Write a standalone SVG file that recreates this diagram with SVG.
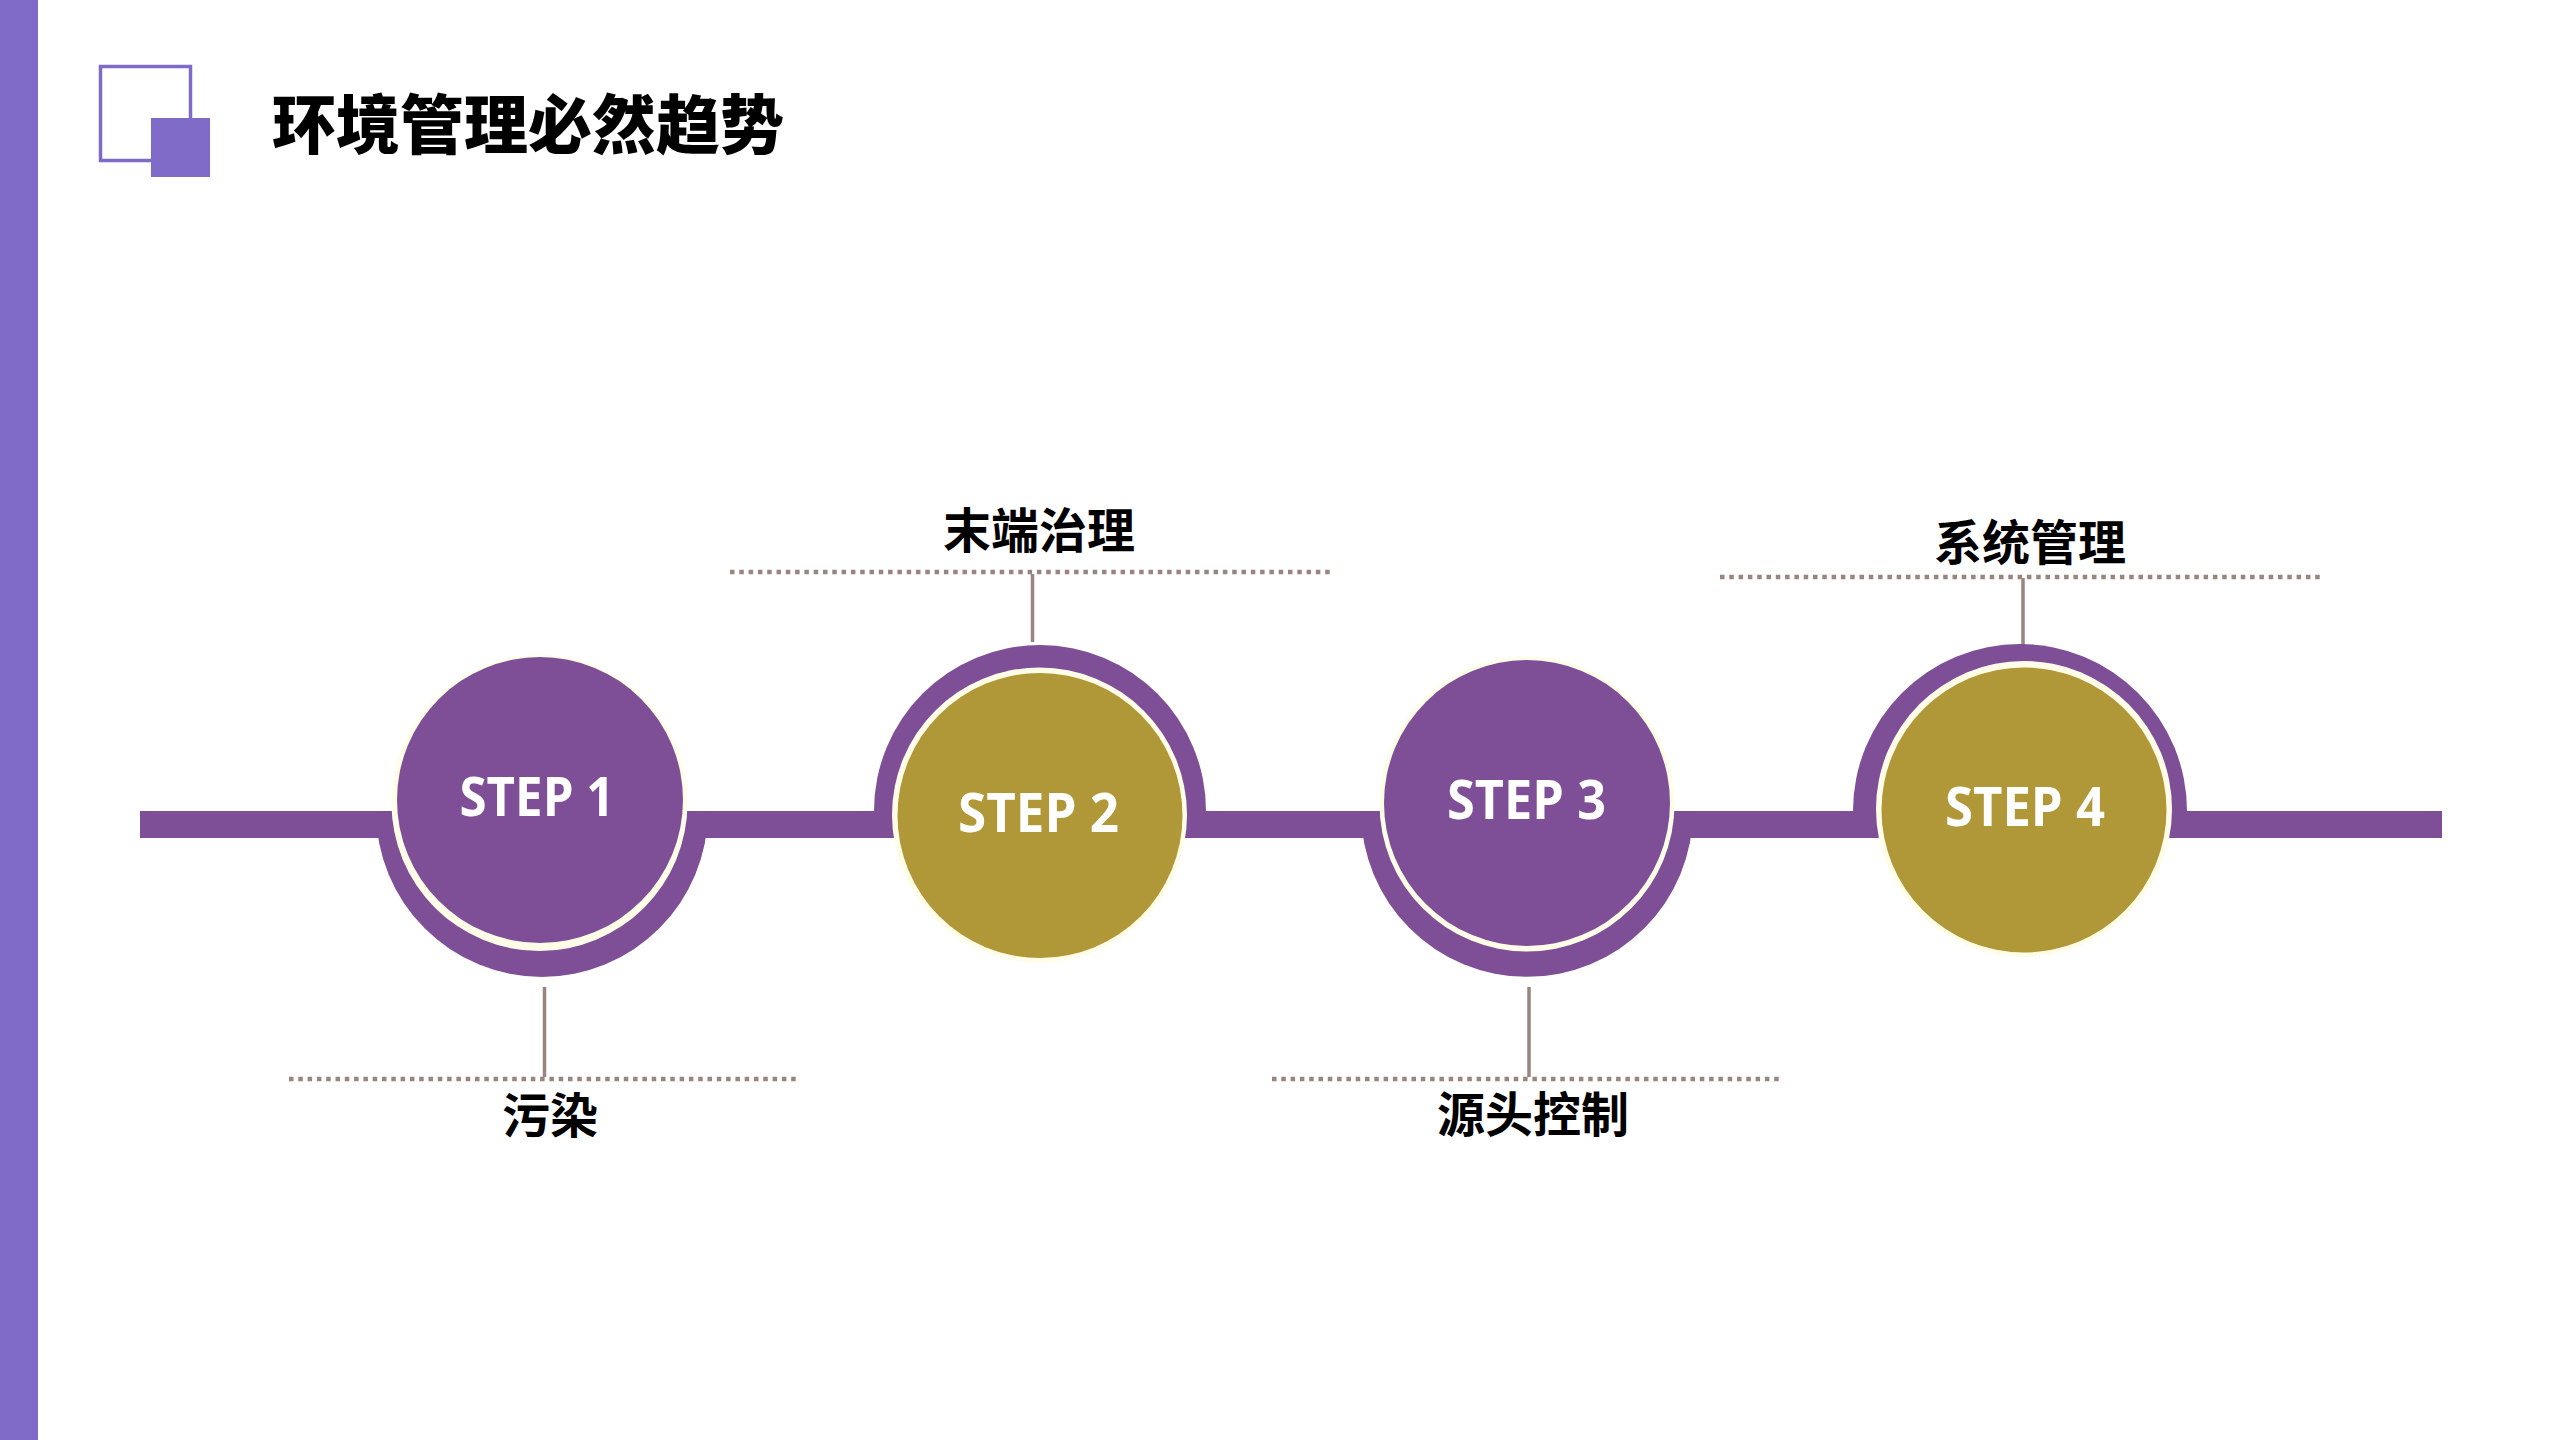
<svg xmlns="http://www.w3.org/2000/svg" width="2560" height="1440" viewBox="0 0 2560 1440">
  <style>
    .accent { fill: #7F6BC7; }
    .purple { fill: #7E4F96; }
    .gold { fill: #B09737; }
    .cream { fill: #FFFDE8; }
    .step { font-family: "Open Sans", "Noto Sans", sans-serif; font-weight: 700; font-size: 53px; fill: #FFFFFF; text-anchor: middle; }
    .label { font-family: "Noto Sans CJK SC", "Noto Sans", sans-serif; font-weight: 700; font-size: 48px; fill: #000000; text-anchor: middle; }
    .title { font-family: "Noto Sans CJK SC", "Noto Sans", sans-serif; font-weight: 900; font-size: 64px; fill: #000000; }
    .dots { stroke: #9A8480; stroke-width: 4.5; stroke-dasharray: 4.5 4.8; fill: none; }
    .stem { stroke: #9A8480; stroke-width: 3.5; fill: none; }
  </style>
  <rect width="2560" height="1440" fill="#FFFFFF"/>
  <g id="header">
    <rect class="accent" x="0" y="0" width="38" height="1440"/>
    <rect x="100.5" y="66.5" width="90" height="94" fill="none" stroke="#7F6BC7" stroke-width="3.5"/>
    <rect class="accent" x="151" y="118" width="59" height="59"/>
    <text class="title" x="272" y="148">环境管理必然趋势</text>
  </g>
  <g id="connectors">
    <rect class="purple" x="140" y="811" width="2302" height="27"/>
    <line class="dots" x1="289" y1="1079" x2="797" y2="1079"/>
    <line class="stem" x1="544.5" y1="987" x2="544.5" y2="1077"/>
    <line class="dots" x1="730" y1="572" x2="1332" y2="572"/>
    <line class="stem" x1="1032.5" y1="574" x2="1032.5" y2="642"/>
    <line class="dots" x1="1272" y1="1079" x2="1781" y2="1079"/>
    <line class="stem" x1="1529" y1="987" x2="1529" y2="1077"/>
    <line class="dots" x1="1720" y1="577" x2="2324" y2="577"/>
    <line class="stem" x1="2023" y1="578" x2="2023" y2="647"/>
  </g>
  <g id="step1">
    <path class="purple" d="M376 811 A166 166 0 0 0 708 811 Z"/>
    <circle class="cream" cx="539.5" cy="803" r="148"/>
    <circle class="purple" cx="540" cy="800" r="143"/>
    <text class="step" x="537" y="816" textLength="155" lengthAdjust="spacingAndGlyphs">STEP 1</text>
    <text class="label" x="550" y="1133">污染</text>
  </g>
  <g id="step2">
    <path class="purple" d="M874 811 A166 166 0 0 1 1206 811 Z"/>
    <circle class="cream" cx="1039.5" cy="815" r="147.5"/>
    <circle class="gold" cx="1040" cy="815.5" r="142.5"/>
    <text class="step" x="1038.5" y="832" textLength="161" lengthAdjust="spacingAndGlyphs">STEP 2</text>
    <text class="label" x="1039" y="548">末端治理</text>
  </g>
  <g id="step3">
    <path class="purple" d="M1361 811 A166 166 0 0 0 1693 811 Z"/>
    <circle class="cream" cx="1527" cy="804" r="147.5"/>
    <circle class="purple" cx="1527" cy="803" r="143"/>
    <text class="step" x="1526.5" y="819" textLength="159" lengthAdjust="spacingAndGlyphs">STEP 3</text>
    <text class="label" x="1533" y="1132">源头控制</text>
  </g>
  <g id="step4">
    <path class="purple" d="M1853 811 A167 167 0 0 1 2187 811 Z"/>
    <circle class="cream" cx="2024" cy="809" r="148"/>
    <circle class="gold" cx="2024" cy="810" r="142.5"/>
    <text class="step" x="2025" y="826" textLength="160" lengthAdjust="spacingAndGlyphs">STEP 4</text>
    <text class="label" x="2030" y="560">系统管理</text>
  </g>
</svg>
